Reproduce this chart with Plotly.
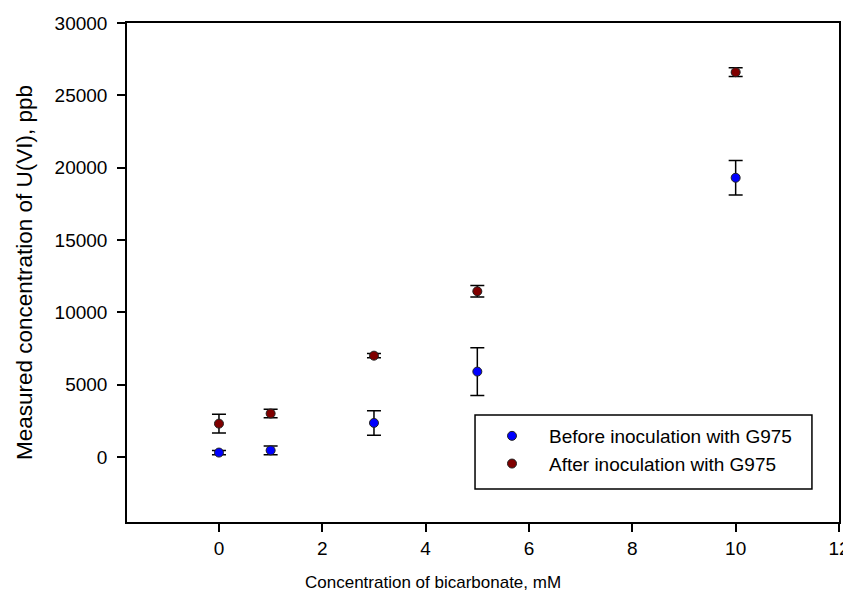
import plotly.graph_objects as go

bicarb = [0, 1, 3, 5, 10]
before_vals = [300, 450, 2350, 5900, 19300]
before_err = [150, 300, 850, 1650, 1200]
after_vals = [2300, 3000, 7000, 11450, 26600]
after_err = [650, 300, 150, 400, 300]
x_ticks = [0, 2, 4, 6, 8, 10, 12]
y_ticks = [0, 5000, 10000, 15000, 20000, 25000, 30000]

fig = go.Figure()
fig.add_trace(go.Scatter(
    x=bicarb, y=before_vals, mode="markers", name="Before inoculation with G975",
    marker=dict(color="#0000ff", size=9, line=dict(color="#222", width=1)),
    error_y=dict(type="data", array=before_err, color="black", thickness=1.5, width=7),
))
fig.add_trace(go.Scatter(
    x=bicarb, y=after_vals, mode="markers", name="After inoculation with G975",
    marker=dict(color="#800000", size=9, line=dict(color="#222", width=1)),
    error_y=dict(type="data", array=after_err, color="black", thickness=1.5, width=7),
))

axis_common = dict(showgrid=False, zeroline=False, showline=True, linecolor="black",
                   linewidth=1.5, mirror=True, ticks="outside", ticklen=8,
                   tickcolor="black", tickwidth=1.5, automargin=False,
                   tickfont=dict(size=19, color="black"))

# legend frame (paper coordinates)
fig.add_shape(type="rect", xref="paper", yref="paper",
              x0=0.4888, x1=0.962, y0=0.0661, y1=0.2144,
              line=dict(color="black", width=1.5), fillcolor="white", layer="below")

# x-axis title (placed left of the plot centre, as in the reference)
fig.add_annotation(text="Concentration of bicarbonate, mM", xref="paper", yref="paper",
                   x=0.4298, y=-0.1222, xanchor="center", yanchor="middle",
                   showarrow=False, font=dict(size=17, color="black"))

# page has an 8px body margin, so the figure is sized 843x587
fig.update_layout(
    width=843, height=587,
    paper_bgcolor="white", plot_bgcolor="white",
    font=dict(family="Liberation Sans, Arial, sans-serif", color="black", size=18),
    margin=dict(l=119, r=12, t=15, b=73),
    xaxis=dict(range=[-1.78, 12], tickvals=x_ticks, ticklabelstandoff=0,
               **axis_common),
    yaxis=dict(range=[-4500, 30000], tickvals=y_ticks, tickformat="d", ticklabelstandoff=6,
               title=dict(text="Measured concentration of U(VI), ppb", font=dict(size=22.5), standoff=16),
               **axis_common),
    legend=dict(x=(475 - 127) / 712, y=(522 - 417) / 499, xanchor="left", yanchor="top",
                borderwidth=0, bgcolor="rgba(0,0,0,0)",
                font=dict(size=19), itemwidth=64, tracegroupgap=0),
    showlegend=True,
)

fig.write_html("out.html")
